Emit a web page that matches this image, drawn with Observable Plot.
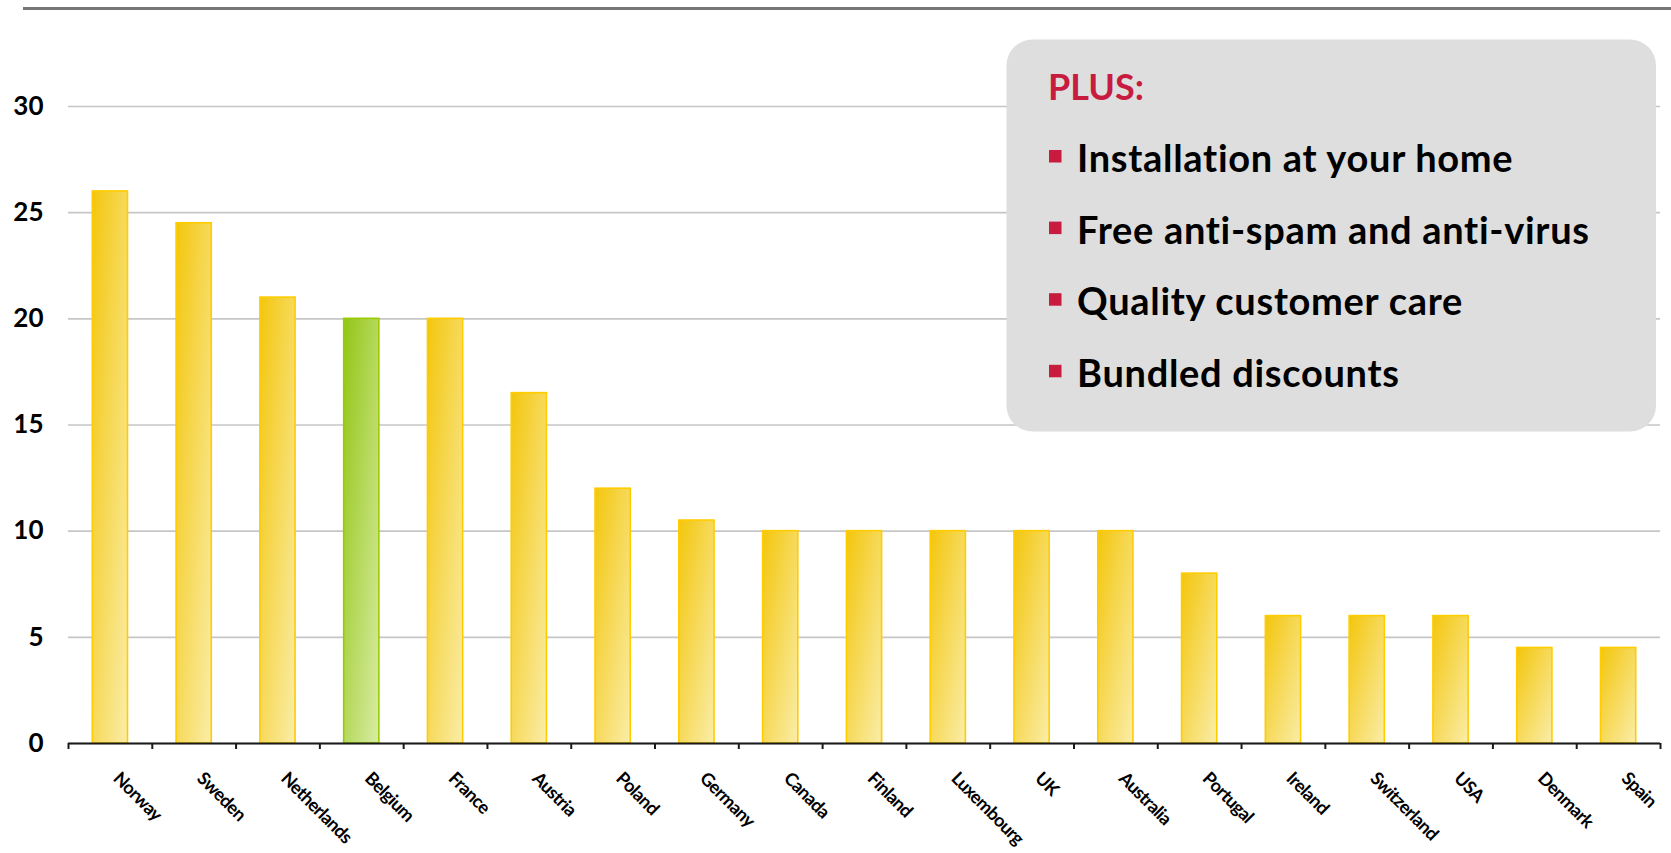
<!DOCTYPE html>
<html><head><meta charset="utf-8">
<script src="https://cdn.jsdelivr.net/npm/d3@7"></script>
<script src="https://cdn.jsdelivr.net/npm/@observablehq/plot@0.6"></script>
<style>
html,body{margin:0;padding:0;background:#fff;}
#wrap{position:relative;width:1671px;height:853px;overflow:hidden;font-family:Lato, sans-serif;}
#wrap > svg{position:absolute;left:0;top:0;}
#rule{position:absolute;left:23px;right:0;top:7px;height:3px;background:#777;}
</style></head><body>
<div id="wrap"></div>
<script>
const countries = ["Norway","Sweden","Netherlands","Belgium","France","Austria","Poland","Germany","Canada","Finland","Luxembourg","UK","Australia","Portugal","Ireland","Switzerland","USA","Denmark","Spain"];
const values = [26, 24.5, 21, 20, 20, 16.5, 12, 10.5, 10, 10, 10, 10, 10, 8, 6, 6, 6, 4.5, 4.5];
const highlight = "Belgium";
const yTicks = [0, 5, 10, 15, 20, 25, 30];
const boxTitle = "PLUS:";
const boxItems = ["Installation at your home", "Free anti-spam and anti-virus", "Quality customer care", "Bundled discounts"];

const data = countries.map((c, i) => ({country: c, value: values[i]}));
const W = 1671, H = 853, mL = 68, mR = 11, mT = 106, mB = 110;
const step = (W - mL - mR) / countries.length;
const font = "Lato, 'Noto Sans', sans-serif";

const chart = Plot.plot({
  width: W, height: H,
  marginLeft: mL, marginRight: mR, marginTop: mT, marginBottom: mB,
  style: {fontFamily: font, background: "transparent", overflow: "visible"},
  x: {domain: countries, paddingInner: 0.58, paddingOuter: 0.29, round: false, label: null},
  y: {domain: [0, 30], label: null},
  marks: [
    Plot.gridY(yTicks, {stroke: "#c6c6c6", strokeOpacity: 1, strokeWidth: 1.6}),
    Plot.barY(data, {filter: d => d.country !== highlight, x: "country", y: "value", fill: "url(#gY)", stroke: "#FFCC00", strokeWidth: 1.6}),
    Plot.barY(data, {filter: d => d.country === highlight, x: "country", y: "value", fill: "url(#gG)", stroke: "#99CC00", strokeWidth: 1.6}),
    Plot.ruleY([0], {stroke: "#1a1a1a", strokeWidth: 2}),
    Plot.axisY(yTicks, {tickSize: 0, tickPadding: 25, fontSize: 26, fontWeight: "bold", fill: "#000", label: null}),
    Plot.axisX({tickSize: 6, dx: -step / 2, tickFormat: () => "", stroke: "#1a1a1a", strokeWidth: 2, label: null}),
    Plot.axisX([countries[countries.length - 1]], {tickSize: 6, dx: step / 2, tickFormat: () => "", stroke: "#1a1a1a", strokeWidth: 2, label: null}),
    Plot.axisX({tickSize: 0, tickRotate: 45, tickPadding: 32, dx: 6, fontSize: 18, fontWeight: "bold", fill: "#000", label: null})
  ]
});

const ns = "http://www.w3.org/2000/svg";
const defs = document.createElementNS(ns, "defs");
defs.innerHTML = `
<linearGradient id="gY" x1="0" y1="0" x2="1" y2="1">
  <stop offset="0" stop-color="#F3C60C"/>
  <stop offset="1" stop-color="#FAEDA8"/>
</linearGradient>
<linearGradient id="gG" x1="0" y1="0" x2="1" y2="1">
  <stop offset="0" stop-color="#93C514"/>
  <stop offset="1" stop-color="#D8ECA4"/>
</linearGradient>`;
chart.insertBefore(defs, chart.firstChild);
// condensed look for the rotated category labels
chart.querySelectorAll("g[aria-label='x-axis tick label'] text").forEach(t => t.setAttribute("letter-spacing", "-0.6"));

const wrap = document.getElementById("wrap");
wrap.appendChild(chart);
const rule = document.createElement("div");
rule.id = "rule";
wrap.appendChild(rule);

// annotation box
const box = document.createElementNS(ns, "svg");
box.setAttribute("width", W);
box.setAttribute("height", H);
box.style.fontFamily = font;
const red = "#C71B3F";
let html = `<rect x="1006.5" y="39.5" width="649.5" height="392" rx="26" ry="26" fill="#DEDEDE"/>`;
html += `<text x="1048" y="100" font-size="36" font-weight="bold" fill="${red}">${boxTitle}</text>`;
boxItems.forEach((t, i) => {
  const by = 172 + i * 71.6;
  html += `<rect x="1049" y="${by - 22}" width="12.5" height="12.5" fill="${red}"/>`;
  html += `<text x="1077" y="${by}" font-size="38" font-weight="bold" letter-spacing="0.7" fill="#000">${t}</text>`;
});
box.innerHTML = html;
wrap.appendChild(box);
</script>
</body></html>
